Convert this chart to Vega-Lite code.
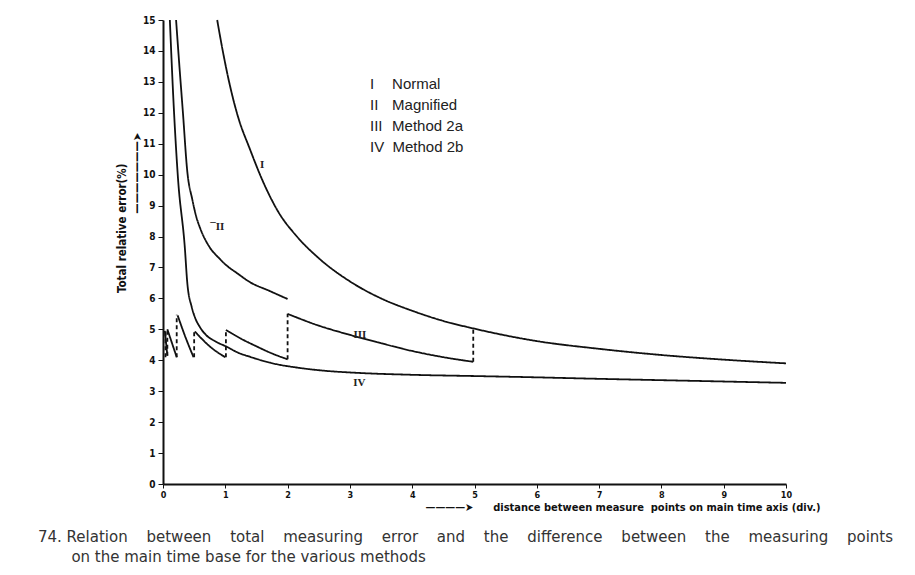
{
  "$schema": "https://vega.github.io/schema/vega-lite/v6.json",
  "width": 623,
  "height": 464,
  "autosize": {"type": "none"},
  "padding": {"left": 163, "top": 20, "right": 129, "bottom": 91},
  "background": "white",
  "config": {
    "view": {"stroke": null},
    "font": "DejaVu Sans Condensed",
    "legend": {
      "orient": "none",
      "title": null,
      "symbolSize": 0,
      "symbolOpacity": 0,
      "symbolStrokeWidth": 0,
      "labelOffset": 0,
      "labelFont": "Liberation Sans",
      "labelFontSize": 15,
      "labelColor": "#222",
      "rowPadding": 5
    }
  },
  "title": {
    "text": [
      "74. Relation\u00a0\u00a0\u00a0\u2009\u200abetween\u00a0\u00a0\u00a0\u2009\u200atotal\u00a0\u00a0\u00a0\u2009\u200ameasuring\u00a0\u00a0\u00a0\u2009\u200aerror\u00a0\u00a0\u00a0\u2009\u200aand\u00a0\u00a0\u00a0\u2009\u200athe\u00a0\u00a0\u00a0\u2009\u200adifference\u00a0\u00a0\u00a0\u2009\u200abetween\u00a0\u00a0\u00a0\u2009\u200athe\u00a0\u00a0\u00a0\u2009\u200ameasuring\u00a0\u00a0\u00a0\u2009\u200apoints",
      "\u200b\u00a0\u00a0\u00a0\u00a0\u00a0\u00a0\u00a0on the main time base for the various methods"
    ],
    "orient": "bottom",
    "anchor": "start",
    "frame": "group",
    "dx": -125,
    "offset": 18,
    "font": "DejaVu Sans",
    "fontSize": 15,
    "fontWeight": "normal",
    "color": "#333",
    "lineHeight": 20
  },
  "encoding": {
    "x": {
      "field": "x", "type": "quantitative",
      "scale": {"domain": [0, 10], "nice": false},
      "axis": {
        "values": [0, 1, 2, 3, 4, 5, 6, 7, 8, 9, 10],
        "format": "d",
        "labelOverlap": false,
        "labelFlush": false,
        "grid": false,
        "tickSize": 4,
        "tickColor": "#111",
        "domainColor": "#111",
        "domainWidth": 2,
        "labelFont": "DejaVu Sans Condensed",
        "labelFontWeight": "bold",
        "labelFontSize": 9,
        "labelColor": "#111",
        "labelPadding": 2,
        "title": "————➤\u2003\u2003distance between measure\u00a0\u00a0points on main time axis (div.)",
        "titleFont": "DejaVu Sans Condensed",
        "titleFontWeight": "bold",
        "titleFontSize": 11,
        "titleColor": "#111",
        "titleAlign": "right",
        "titleX": 657,
        "titlePadding": 2
      }
    },
    "y": {
      "field": "y", "type": "quantitative",
      "scale": {"domain": [0, 15], "nice": false},
      "axis": {
        "values": [0, 1, 2, 3, 4, 5, 6, 7, 8, 9, 10, 11, 12, 13, 14, 15],
        "tickCount": 16,
        "format": "d",
        "labelOverlap": false,
        "labelFlush": false,
        "grid": false,
        "tickSize": 5,
        "tickColor": "#111",
        "domainColor": "#111",
        "domainWidth": 2,
        "labelFont": "DejaVu Sans Condensed",
        "labelFontWeight": "bold",
        "labelFontSize": 10,
        "labelColor": "#111",
        "labelPadding": 3,
        "title": ["Total relative error(%)\u2003\u2003\u2003\u200b", "———————➤"],
        "titleFont": "DejaVu Sans Condensed",
        "titleFontWeight": "bold",
        "titleFontSize": 11.5,
        "titleColor": "#111",
        "titleAngle": 270,
        "titleAlign": "right",
        "titleY": 112,
        "titleLineHeight": 15,
        "titlePadding": 0
      }
    }
  },
  "layer": [
    {
      "data": {
        "values": [
          {"seg": "I", "num": "I", "name": "Normal", "kind": "curve", "x": 0.87, "y": 15},
          {"seg": "I", "num": "I", "name": "Normal", "kind": "curve", "x": 0.95, "y": 14.1},
          {"seg": "I", "num": "I", "name": "Normal", "kind": "curve", "x": 1.05, "y": 13.1},
          {"seg": "I", "num": "I", "name": "Normal", "kind": "curve", "x": 1.2, "y": 11.9},
          {"seg": "I", "num": "I", "name": "Normal", "kind": "curve", "x": 1.4, "y": 10.8},
          {"seg": "I", "num": "I", "name": "Normal", "kind": "curve", "x": 1.6, "y": 9.8},
          {"seg": "I", "num": "I", "name": "Normal", "kind": "curve", "x": 1.85, "y": 8.8},
          {"seg": "I", "num": "I", "name": "Normal", "kind": "curve", "x": 2.15, "y": 8.0},
          {"seg": "I", "num": "I", "name": "Normal", "kind": "curve", "x": 2.5, "y": 7.3},
          {"seg": "I", "num": "I", "name": "Normal", "kind": "curve", "x": 3.0, "y": 6.55},
          {"seg": "I", "num": "I", "name": "Normal", "kind": "curve", "x": 3.5, "y": 6.0},
          {"seg": "I", "num": "I", "name": "Normal", "kind": "curve", "x": 4.0, "y": 5.6},
          {"seg": "I", "num": "I", "name": "Normal", "kind": "curve", "x": 4.5, "y": 5.27},
          {"seg": "I", "num": "I", "name": "Normal", "kind": "curve", "x": 5.0, "y": 5.02},
          {"seg": "I", "num": "I", "name": "Normal", "kind": "curve", "x": 6.0, "y": 4.62},
          {"seg": "I", "num": "I", "name": "Normal", "kind": "curve", "x": 7.0, "y": 4.37},
          {"seg": "I", "num": "I", "name": "Normal", "kind": "curve", "x": 8.0, "y": 4.17},
          {"seg": "I", "num": "I", "name": "Normal", "kind": "curve", "x": 9.0, "y": 4.02},
          {"seg": "I", "num": "I", "name": "Normal", "kind": "curve", "x": 10.0, "y": 3.9},

          {"seg": "II", "num": "II", "name": "Magnified", "kind": "curve", "x": 0.21, "y": 15},
          {"seg": "II", "num": "II", "name": "Magnified", "kind": "curve", "x": 0.26, "y": 13.6},
          {"seg": "II", "num": "II", "name": "Magnified", "kind": "curve", "x": 0.32, "y": 12.0},
          {"seg": "II", "num": "II", "name": "Magnified", "kind": "curve", "x": 0.39, "y": 10.1},
          {"seg": "II", "num": "II", "name": "Magnified", "kind": "curve", "x": 0.47, "y": 9.2},
          {"seg": "II", "num": "II", "name": "Magnified", "kind": "curve", "x": 0.54, "y": 8.6},
          {"seg": "II", "num": "II", "name": "Magnified", "kind": "curve", "x": 0.6, "y": 8.25},
          {"seg": "II", "num": "II", "name": "Magnified", "kind": "curve", "x": 0.75, "y": 7.65},
          {"seg": "II", "num": "II", "name": "Magnified", "kind": "curve", "x": 0.9, "y": 7.3},
          {"seg": "II", "num": "II", "name": "Magnified", "kind": "curve", "x": 1.0, "y": 7.1},
          {"seg": "II", "num": "II", "name": "Magnified", "kind": "curve", "x": 1.2, "y": 6.8},
          {"seg": "II", "num": "II", "name": "Magnified", "kind": "curve", "x": 1.4, "y": 6.52},
          {"seg": "II", "num": "II", "name": "Magnified", "kind": "curve", "x": 1.7, "y": 6.25},
          {"seg": "II", "num": "II", "name": "Magnified", "kind": "curve", "x": 2.0, "y": 5.98},

          {"seg": "IV", "num": "IV", "name": "Method 2b", "kind": "curve", "x": 0.11, "y": 15},
          {"seg": "IV", "num": "IV", "name": "Method 2b", "kind": "curve", "x": 0.17, "y": 12.3},
          {"seg": "IV", "num": "IV", "name": "Method 2b", "kind": "curve", "x": 0.24, "y": 9.9},
          {"seg": "IV", "num": "IV", "name": "Method 2b", "kind": "curve", "x": 0.35, "y": 7.65},
          {"seg": "IV", "num": "IV", "name": "Method 2b", "kind": "curve", "x": 0.39, "y": 6.5},
          {"seg": "IV", "num": "IV", "name": "Method 2b", "kind": "curve", "x": 0.46, "y": 5.73},
          {"seg": "IV", "num": "IV", "name": "Method 2b", "kind": "curve", "x": 0.52, "y": 5.35},
          {"seg": "IV", "num": "IV", "name": "Method 2b", "kind": "curve", "x": 0.59, "y": 5.08},
          {"seg": "IV", "num": "IV", "name": "Method 2b", "kind": "curve", "x": 0.7, "y": 4.8},
          {"seg": "IV", "num": "IV", "name": "Method 2b", "kind": "curve", "x": 0.85, "y": 4.6},
          {"seg": "IV", "num": "IV", "name": "Method 2b", "kind": "curve", "x": 1.03, "y": 4.43},
          {"seg": "IV", "num": "IV", "name": "Method 2b", "kind": "curve", "x": 1.2, "y": 4.25},
          {"seg": "IV", "num": "IV", "name": "Method 2b", "kind": "curve", "x": 1.4, "y": 4.11},
          {"seg": "IV", "num": "IV", "name": "Method 2b", "kind": "curve", "x": 1.72, "y": 3.92},
          {"seg": "IV", "num": "IV", "name": "Method 2b", "kind": "curve", "x": 2.2, "y": 3.75},
          {"seg": "IV", "num": "IV", "name": "Method 2b", "kind": "curve", "x": 2.6, "y": 3.66},
          {"seg": "IV", "num": "IV", "name": "Method 2b", "kind": "curve", "x": 3.05, "y": 3.6},
          {"seg": "IV", "num": "IV", "name": "Method 2b", "kind": "curve", "x": 4.0, "y": 3.53},
          {"seg": "IV", "num": "IV", "name": "Method 2b", "kind": "curve", "x": 5.0, "y": 3.49},
          {"seg": "IV", "num": "IV", "name": "Method 2b", "kind": "curve", "x": 5.73, "y": 3.46},
          {"seg": "IV", "num": "IV", "name": "Method 2b", "kind": "curve", "x": 7.0, "y": 3.4},
          {"seg": "IV", "num": "IV", "name": "Method 2b", "kind": "curve", "x": 8.62, "y": 3.33},
          {"seg": "IV", "num": "IV", "name": "Method 2b", "kind": "curve", "x": 10.0, "y": 3.27},

          {"seg": "IIIa", "num": "III", "name": "Method 2a", "kind": "curve", "x": 0.03, "y": 4.95},
          {"seg": "IIIa", "num": "III", "name": "Method 2a", "kind": "curve", "x": 0.07, "y": 4.15},
          {"seg": "IIIj0", "num": "III", "name": "Method 2a", "kind": "jump", "x": 0.04, "y": 4.1},
          {"seg": "IIIj0", "num": "III", "name": "Method 2a", "kind": "jump", "x": 0.04, "y": 4.95},
          {"seg": "IIIj1", "num": "III", "name": "Method 2a", "kind": "jump", "x": 0.07, "y": 4.15},
          {"seg": "IIIj1", "num": "III", "name": "Method 2a", "kind": "jump", "x": 0.07, "y": 5.0},
          {"seg": "IIIb", "num": "III", "name": "Method 2a", "kind": "curve", "x": 0.07, "y": 5.0},
          {"seg": "IIIb", "num": "III", "name": "Method 2a", "kind": "curve", "x": 0.22, "y": 4.1},
          {"seg": "IIIj2", "num": "III", "name": "Method 2a", "kind": "jump", "x": 0.22, "y": 4.1},
          {"seg": "IIIj2", "num": "III", "name": "Method 2a", "kind": "jump", "x": 0.22, "y": 5.47},
          {"seg": "IIIc", "num": "III", "name": "Method 2a", "kind": "curve", "x": 0.235, "y": 5.45},
          {"seg": "IIIc", "num": "III", "name": "Method 2a", "kind": "curve", "x": 0.36, "y": 4.75},
          {"seg": "IIIc", "num": "III", "name": "Method 2a", "kind": "curve", "x": 0.49, "y": 4.1},
          {"seg": "IIIj3", "num": "III", "name": "Method 2a", "kind": "jump", "x": 0.5, "y": 4.1},
          {"seg": "IIIj3", "num": "III", "name": "Method 2a", "kind": "jump", "x": 0.5, "y": 4.93},
          {"seg": "IIId", "num": "III", "name": "Method 2a", "kind": "curve", "x": 0.51, "y": 4.93},
          {"seg": "IIId", "num": "III", "name": "Method 2a", "kind": "curve", "x": 0.62, "y": 4.7},
          {"seg": "IIId", "num": "III", "name": "Method 2a", "kind": "curve", "x": 0.75, "y": 4.45},
          {"seg": "IIId", "num": "III", "name": "Method 2a", "kind": "curve", "x": 0.88, "y": 4.25},
          {"seg": "IIId", "num": "III", "name": "Method 2a", "kind": "curve", "x": 1.0, "y": 4.1},
          {"seg": "IIIj4", "num": "III", "name": "Method 2a", "kind": "jump", "x": 1.01, "y": 4.1},
          {"seg": "IIIj4", "num": "III", "name": "Method 2a", "kind": "jump", "x": 1.01, "y": 4.98},
          {"seg": "IIIe", "num": "III", "name": "Method 2a", "kind": "curve", "x": 1.01, "y": 4.98},
          {"seg": "IIIe", "num": "III", "name": "Method 2a", "kind": "curve", "x": 1.25, "y": 4.7},
          {"seg": "IIIe", "num": "III", "name": "Method 2a", "kind": "curve", "x": 1.5, "y": 4.45},
          {"seg": "IIIe", "num": "III", "name": "Method 2a", "kind": "curve", "x": 1.75, "y": 4.22},
          {"seg": "IIIe", "num": "III", "name": "Method 2a", "kind": "curve", "x": 2.0, "y": 4.03},
          {"seg": "IIIj5", "num": "III", "name": "Method 2a", "kind": "jump", "x": 2.0, "y": 4.03},
          {"seg": "IIIj5", "num": "III", "name": "Method 2a", "kind": "jump", "x": 2.0, "y": 5.5},
          {"seg": "IIIf", "num": "III", "name": "Method 2a", "kind": "curve", "x": 2.0, "y": 5.5},
          {"seg": "IIIf", "num": "III", "name": "Method 2a", "kind": "curve", "x": 2.5, "y": 5.12},
          {"seg": "IIIf", "num": "III", "name": "Method 2a", "kind": "curve", "x": 3.0, "y": 4.82},
          {"seg": "IIIf", "num": "III", "name": "Method 2a", "kind": "curve", "x": 3.5, "y": 4.55},
          {"seg": "IIIf", "num": "III", "name": "Method 2a", "kind": "curve", "x": 4.0, "y": 4.3},
          {"seg": "IIIf", "num": "III", "name": "Method 2a", "kind": "curve", "x": 4.5, "y": 4.1},
          {"seg": "IIIf", "num": "III", "name": "Method 2a", "kind": "curve", "x": 4.98, "y": 3.95},
          {"seg": "IIIj6", "num": "III", "name": "Method 2a", "kind": "jump", "x": 4.98, "y": 3.95},
          {"seg": "IIIj6", "num": "III", "name": "Method 2a", "kind": "jump", "x": 4.98, "y": 5.02}
        ]
      },
      "mark": {"type": "line", "strokeWidth": 1.8, "interpolate": "monotone"},
      "encoding": {
        "detail": {"field": "seg"},
        "color": {
          "field": "num", "type": "nominal",
          "scale": {"domain": ["I", "II", "III", "IV"], "range": ["#111", "#111", "#111", "#111"]},
          "legend": {
            "legendX": 192,
            "legendY": 56,
            "labelExpr": "datum.label == 'I' ? 'I\u00a0\u00a0\u00a0\u00a0\u200aNormal' : datum.label == 'II' ? 'II\u00a0\u00a0\u00a0\u200aMagnified' : datum.label == 'III' ? 'III\u00a0\u00a0\u200aMethod 2a' : 'IV\u00a0\u00a0Method 2b'"
          }
        },
        "strokeDash": {
          "field": "kind", "type": "nominal",
          "scale": {"domain": ["curve", "jump"], "range": [[1, 0], [4, 3]]},
          "legend": null
        }
      }
    },
    {
      "data": {
        "values": [
          {"lab": "I", "x": 1.59, "y": 10.3},
          {"lab": "¯II", "x": 0.87, "y": 8.3},
          {"lab": "III", "x": 3.16, "y": 4.82},
          {"lab": "IV", "x": 3.15, "y": 3.27}
        ]
      },
      "mark": {"type": "text", "font": "Liberation Serif", "fontWeight": "bold", "fontSize": 11, "color": "#222"},
      "encoding": {
        "text": {"field": "lab"}
      }
    }
  ]
}
